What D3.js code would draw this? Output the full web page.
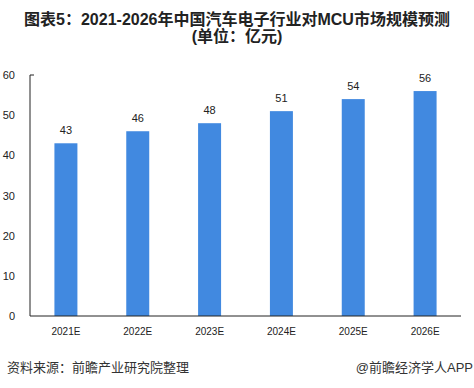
<!DOCTYPE html>
<html>
<head>
<meta charset="utf-8">
<script src="https://cdn.jsdelivr.net/npm/d3@7"></script>
<style>
  body { margin: 0; background: #fff; }
  text { font-family: "Liberation Sans", Arial, "Noto Sans CJK SC", sans-serif; }
</style>
</head>
<body>
<div id="canvas"></div>
<script>
    // chart data
    var years = ["2021E", "2022E", "2023E", "2024E", "2025E", "2026E"];
    var values = [43, 46, 48, 51, 54, 56];
    var yTicks = [0, 10, 20, 30, 40, 50, 60];

    var width = 474, height = 388;
    var margin = {top: 75, right: 13, bottom: 72, left: 30};
    var w = width - margin.left - margin.right;
    var h = 316 - margin.top;

    var svg = d3.select("#canvas").append("svg")
        .attr("width", width)
        .attr("height", height);

    // title
    var title = svg.append("text")
        .attr("text-anchor", "middle")
        .style("font-size", "16px")
        .style("font-weight", "bold")
        .style("fill", "#222");
    title.append("tspan").attr("x", 237).attr("y", 25)
        .text("图表5：2021-2026年中国汽车电子行业对MCU市场规模预测");
    title.append("tspan").attr("x", 237).attr("y", 42)
        .text("(单位：亿元)");

    var g = svg.append("g")
        .attr("transform", "translate(" + margin.left + "," + margin.top + ")");

    var x = d3.scaleBand().domain(years).range([0, w]).paddingInner(0.68).paddingOuter(0.34);
    var y = d3.scaleLinear().domain([0, 60]).range([h, 0]);

    // bars
    g.selectAll("rect.bar")
        .data(values)
        .enter()
        .append("rect")
        .attr("class", "bar")
        .attr("x", function(d, i) { return x(years[i]); })
        .attr("y", function(d) { return y(d); })
        .attr("width", x.bandwidth())
        .attr("height", function(d) { return h - y(d); })
        .attr("fill", "#4189e0");

    // value labels
    g.selectAll("text.val")
        .data(values)
        .enter()
        .append("text")
        .attr("class", "val")
        .attr("x", function(d, i) { return x(years[i]) + x.bandwidth() / 2; })
        .attr("y", function(d) { return y(d) - 9; })
        .attr("text-anchor", "middle")
        .style("font-size", "11px")
        .style("fill", "#222")
        .text(function(d) { return d; });

    // y axis
    var yaxis = d3.axisLeft(y).tickValues(yTicks).tickSize(0).tickPadding(15);
    var ya = g.append("g").call(yaxis);
    ya.select(".domain").remove();
    ya.selectAll("text").style("font-size", "11px").style("fill", "#222");
    g.append("line").attr("x1", 0).attr("x2", 0).attr("y1", y(60)).attr("y2", h)
        .attr("stroke", "#222").attr("stroke-width", 1);
    g.append("line").attr("x1", 0).attr("x2", 4).attr("y1", y(60)).attr("y2", y(60))
        .attr("stroke", "#222").attr("stroke-width", 1);

    // x axis
    var xaxis = d3.axisBottom(x).tickSize(0).tickPadding(12);
    var xa = g.append("g").attr("transform", "translate(0," + h + ")").call(xaxis);
    xa.select(".domain").remove();
    xa.selectAll("text").style("font-size", "10px").style("fill", "#222");
    g.append("line").attr("x1", 0).attr("x2", w).attr("y1", h).attr("y2", h)
        .attr("stroke", "#222").attr("stroke-width", 1);

    // footer
    svg.append("text").attr("x", 7).attr("y", 372)
        .style("font-size", "13px").style("fill", "#333")
        .text("资料来源：前瞻产业研究院整理");
    svg.append("text").attr("x", 473).attr("y", 372)
        .attr("text-anchor", "end")
        .style("font-size", "13px").style("fill", "#333")
        .text("@前瞻经济学人APP");
</script>
</body>
</html>
